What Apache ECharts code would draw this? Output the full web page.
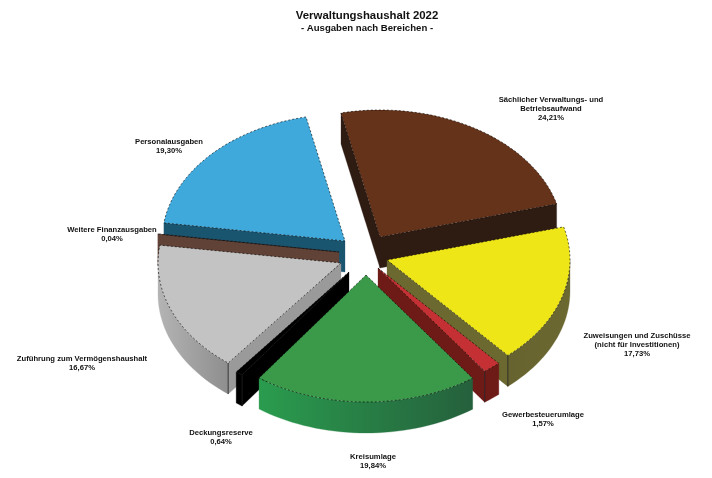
<!DOCTYPE html>
<html>
<head>
<meta charset="utf-8">
<title>Verwaltungshaushalt 2022</title>
<style>
  html, body { margin: 0; padding: 0; background: #fff; }
  #chart { width: 712px; height: 478px; }
</style>
<script src="https://cdn.jsdelivr.net/npm/echarts@6/dist/echarts.min.js"></script>
</head>
<body>
<div id="chart"></div>
<script>
// data, clockwise from the top of the pie
const categories = [
    'Sächlicher Verwaltungs- und\nBetriebsaufwand',
    'Zuweisungen und Zuschüsse\n(nicht für Investitionen)',
    'Gewerbesteuerumlage',
    'Kreisumlage',
    'Deckungsreserve',
    'Zuführung zum Vermögenshaushalt',
    'Weitere Finanzausgaben',
    'Personalausgaben'
];
const shares = [24.21, 17.73, 1.57, 19.84, 0.64, 16.67, 0.04, 19.30];

// look of the slices
const topColors = ['#65331a', '#eee617', '#c53035', '#3a9a4a', '#000000', '#c3c3c3', '#614236', '#40a9dc'];
const wallColors = ['#2e1c13', '#6b6830', '#6e1a17', '#276a40', '#000000', '#9a9a9a', '#614236', '#1a5570'];
const curveColors = [
    ['#2e1c13', '#2e1c13'], ['#6b6830', '#666330'], ['#6e1a17', '#6e1a17'], ['#2a9c4e', '#25603c'],
    ['#000000', '#000000'], ['#b4b4b4', '#8e8e8e'], ['#614236', '#614236'], ['#1a5570', '#1a5570']
];
// how far each slice is pulled out of the pie, px
const pull = [[14, -17], [21, 6], [12, 14], [0, 21], [-17, 18], [-25, 9], [-27, -2], [-21, -13]];
// back to front
const drawOrder = [0, 1, 7, 6, 5, 2, 4, 3];
// centre of each label
const labelPos = [[551, 108.5], [637, 344.5], [543, 419.5], [373, 461.5], [221, 437.5], [82, 363.5], [112, 234.5], [169, 146.5]];

const CX = 366, CY = 254, RX = 183, RY = 127, DEPTH = 31;
const START_ANGLE = -12.3;

let total = shares.reduce(function (a, b) { return a + b; }, 0);

function pt(c, deg, dy) {
    let r = deg * Math.PI / 180;
    return [c[0] + RX * Math.sin(r), c[1] - RY * Math.cos(r) + (dy || 0)];
}

function arc(c, from, to, dy) {
    let pts = [];
    let n = Math.max(2, Math.ceil(Math.abs(to - from) / 2));
    for (let i = 0; i <= n; i++) {
        pts.push(pt(c, from + (to - from) * i / n, dy));
    }
    return pts;
}

// a wall is visible if its outward normal points down the screen
function faces(deg) {
    let d = ((deg % 360) + 360) % 360;
    return d > 90 && d < 270;
}

function poly(points, fill, dashed) {
    return {
        type: 'polygon',
        shape: { points: points },
        style: {
            fill: fill,
            stroke: dashed ? '#000' : fill,
            lineWidth: dashed ? 0.6 : 0.3,
            lineDash: dashed ? [2, 2] : null
        }
    };
}

function corner(p) {
    return {
        type: 'line',
        shape: { x1: p[0], y1: p[1], x2: p[0], y2: p[1] + DEPTH },
        style: { stroke: '#1a1a1a', lineWidth: 0.8 }
    };
}

function renderSlice(params, api) {
    let i = api.value(0);
    let before = 0;
    for (let k = 0; k < i; k++) before += shares[k];
    let a0 = START_ANGLE + before / total * 360;
    let a1 = a0 + shares[i] / total * 360;
    let c = [CX + pull[i][0], CY + pull[i][1]];
    let c2 = [c[0], c[1] + DEPTH];
    let children = [];
    let from = Math.max(a0, 90), to = Math.min(a1, 270);

    if (faces(a0 - 90)) {
        children.push(poly([pt(c, a0), c, c2, pt(c, a0, DEPTH)], wallColors[i], false));
    }
    if (faces(a1 + 90)) {
        children.push(poly([pt(c, a1), c, c2, pt(c, a1, DEPTH)], wallColors[i], false));
    }
    if (to > from) {
        let leftSide = from < 180 && to <= 180;
        let grad = new echarts.graphic.LinearGradient(0, 0, 1, 0, [
            { offset: 0, color: curveColors[i][leftSide ? 1 : 0] },
            { offset: 1, color: curveColors[i][leftSide ? 0 : 1] }
        ]);
        children.push(poly(arc(c, from, to).concat(arc(c, to, from, DEPTH)), grad, false));
        if (faces(a0 - 90) && a0 > 90) children.push(corner(pt(c, a0)));
        if (faces(a1 + 90) && a1 < 270) children.push(corner(pt(c, a1)));
    }
    children.push(poly([c].concat(arc(c, a0, a1)), topColors[i], true));
    return { type: 'group', children: children };
}

let labels = categories.map(function (name, i) {
    return {
        type: 'text',
        x: labelPos[i][0],
        y: labelPos[i][1],
        style: {
            text: name + '\n' + shares[i].toFixed(2).replace('.', ',') + '%',
            fill: '#111',
            font: 'bold 7.65px "Liberation Sans", Arial, sans-serif',
            lineHeight: 9,
            align: 'center',
            verticalAlign: 'middle'
        }
    };
});

labels.push({
    type: 'text', x: 367, y: 15.5,
    style: {
        text: 'Verwaltungshaushalt 2022', fill: '#111',
        font: 'bold 11.4px "Liberation Sans", Arial, sans-serif',
        align: 'center', verticalAlign: 'middle'
    }
}, {
    type: 'text', x: 367, y: 28,
    style: {
        text: '- Ausgaben nach Bereichen -', fill: '#111',
        font: 'bold 9.6px "Liberation Sans", Arial, sans-serif',
        align: 'center', verticalAlign: 'middle'
    }
});

let myChart = echarts.init(document.getElementById('chart'));
let option = {
    backgroundColor: '#fff',
    animation: false,
    graphic: { elements: labels },
    series: [{
        type: 'custom',
        coordinateSystem: 'none',
        silent: true,
        renderItem: renderSlice,
        data: drawOrder.map(function (i) { return [i, shares[i]]; })
    }]
};
myChart.setOption(option);
</script>
</body>
</html>
